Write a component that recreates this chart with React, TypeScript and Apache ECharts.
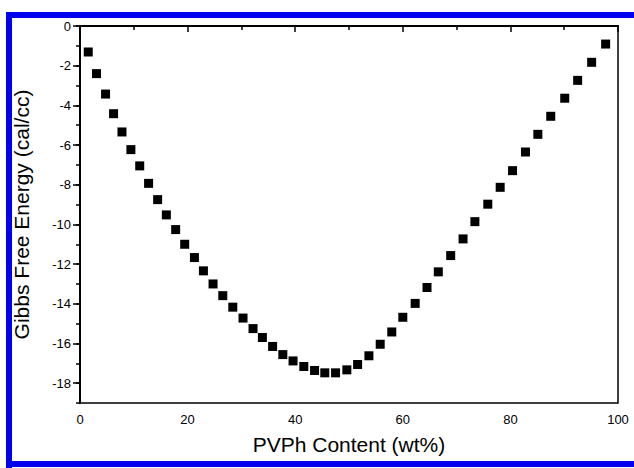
import React, { useEffect, useRef } from "react";
import * as echarts from "echarts";

// PVPh content (wt%) of each computed blend
const pvphContent = [
  1.53, 3.07, 4.75, 6.24, 7.8, 9.46, 11.1, 12.75, 14.43, 16.05, 17.78, 19.46,
  21.27, 22.94, 24.73, 26.54, 28.4, 30.3, 32.16, 33.9, 35.8, 37.7, 39.6, 41.6,
  43.6, 45.5, 47.5, 49.6, 51.6, 53.7, 55.8, 57.95, 60.0, 62.3, 64.5, 66.6,
  68.9, 71.2, 73.4, 75.8, 78.1, 80.4, 82.8, 85.1, 87.5, 90.1, 92.5, 95.1, 97.7,
];

// Gibbs free energy of mixing (cal/cc)
const gibbsEnergy = [
  -1.31, -2.4, -3.43, -4.42, -5.34, -6.23, -7.05, -7.93, -8.75, -9.52, -10.26,
  -11.0, -11.67, -12.34, -13.0, -13.59, -14.17, -14.72, -15.25, -15.7, -16.15,
  -16.56, -16.88, -17.16, -17.36, -17.48, -17.48, -17.33, -17.06, -16.62,
  -16.04, -15.42, -14.68, -13.98, -13.18, -12.39, -11.57, -10.73, -9.86,
  -8.98, -8.13, -7.29, -6.35, -5.46, -4.55, -3.64, -2.74, -1.83, -0.91,
];

const xTitle = "PVPh Content (wt%)";
const yTitle = "Gibbs Free Energy (cal/cc)";

const FONT = "'Liberation Sans', Arial, sans-serif";
const FRAME_BLUE = "#0000ee";

export default function App() {
  const ref = useRef<HTMLDivElement>(null);

  useEffect(() => {
    if (!ref.current) return;
    const chart = echarts.init(ref.current, undefined, { renderer: "svg" });
    const points = pvphContent.map((x, i) => [x, gibbsEnergy[i]]);

    const frameLine = (x1: number, y1: number, x2: number, y2: number) => ({
      type: "line",
      silent: true,
      z: 100,
      shape: { x1, y1, x2, y2 },
      style: { stroke: FRAME_BLUE, lineWidth: 6 },
    });

    chart.setOption({
      animation: false,
      backgroundColor: "#ffffff",
      textStyle: { fontFamily: FONT },
      grid: {
        left: 80,
        right: 16,
        top: 26,
        bottom: 65,
        show: true,
        borderColor: "#000",
        borderWidth: 1.5,
        backgroundColor: "transparent",
      },
      graphic: [
        frameLine(9, 12, 9, 468),
        frameLine(6, 15, 634, 15),
        frameLine(6, 464, 634, 464),
      ],
      xAxis: {
        type: "value",
        min: 0,
        max: 100,
        interval: 20,
        name: xTitle,
        nameLocation: "middle",
        nameGap: 31,
        nameTextStyle: { fontSize: 21, color: "#000", fontFamily: FONT },
        axisLine: { show: true, lineStyle: { color: "#000", width: 2 } },
        axisTick: { show: true, inside: false, length: 6, lineStyle: { color: "#000", width: 1.5 } },
        minorTick: { show: true, splitNumber: 2, length: 4, lineStyle: { color: "#000", width: 1.5 } },
        axisLabel: { fontSize: 13, color: "#000", margin: 10, fontFamily: FONT },
        splitLine: { show: false },
      },
      yAxis: [
        {
          type: "value",
          min: -19,
          max: 0,
          splitNumber: 10,
          name: yTitle,
          nameLocation: "middle",
          nameGap: 48,
          nameTextStyle: { fontSize: 21, color: "#000", fontFamily: FONT },
          axisLine: { show: true, lineStyle: { color: "#000", width: 2 } },
          axisTick: { show: true, inside: false, length: 7, lineStyle: { color: "#000", width: 1.5 } },
          axisLabel: {
            fontSize: 13,
            color: "#000",
            margin: 9,
            fontFamily: FONT,
            showMinLabel: false,
          },
          splitLine: { show: false },
        },
        {
          // odd-valued minor ticks on the left edge
          type: "value",
          position: "left",
          min: -19,
          max: 0,
          interval: 1,
          axisLine: { show: false },
          axisTick: { show: true, inside: false, length: 4, lineStyle: { color: "#000", width: 1.5 } },
          axisLabel: { show: false },
          splitLine: { show: false },
        },
      ],
      series: [
        {
          type: "scatter",
          xAxisIndex: 0,
          yAxisIndex: 0,
          symbol: "rect",
          symbolSize: 9,
          itemStyle: { color: "#000", opacity: 1 },
          data: points,
        },
      ],
    });

    return () => chart.dispose();
  }, []);

  return (
    <div
      ref={ref}
      style={{ position: "fixed", left: 0, top: 0, width: 634, height: 468 }}
    />
  );
}
